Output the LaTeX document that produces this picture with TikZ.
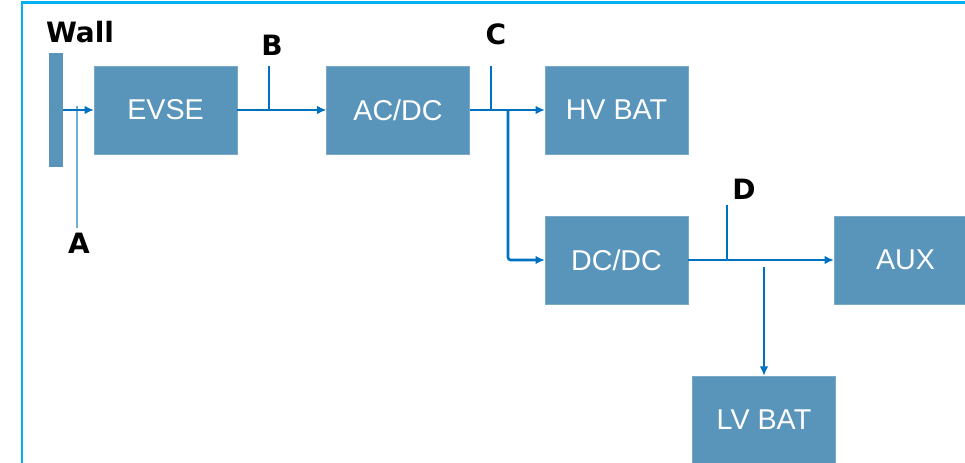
\documentclass[tikz,border=0pt]{standalone}
\usepackage{fontspec}
\setmainfont{Liberation Sans}
\newfontfamily\lblfont{DejaVu Sans}
\usetikzlibrary{arrows.meta}
\definecolor{boxblue}{RGB}{89,149,187}
\definecolor{wireblue}{RGB}{0,112,192}
\definecolor{tapblue}{RGB}{112,174,220}
\definecolor{framecyan}{RGB}{0,176,240}

\begin{document}
\begin{tikzpicture}[x=0.75pt,y=0.75pt,yscale=-1,xscale=1,
	blk/.style={fill=boxblue, draw=boxblue!80!white, text=white, minimum width=107pt, minimum height=66pt, inner sep=0pt, font=\fontsize{21.5}{25}\selectfont},
	lbl/.style={inner sep=0pt, font=\lblfont\bfseries\fontsize{21}{25}\selectfont},
	wire/.style={draw=wireblue, line width=2pt, -{Latex[length=7pt,width=6.5pt]}},
	tap/.style={draw=wireblue, line width=1.1pt}]
	\clip (0,0) rectangle (965,463);
	
	%Shape: Frame
	\draw [framecyan, line width=2pt] (22,480) -- (22,2.5) -- (990,2.5) ;
	
	%Shape: Rectangle [wall]
	\node (wall) at (56,110) [fill=boxblue, minimum width=10.5pt, minimum height=85.5pt, inner sep=0pt] {};
	%Shape: Rectangle [blocks]
	\node (evse) at (165.5,110) [blk] {EVSE};
	\node (acdc) at (398,110) [blk] {AC/DC};
	\node (hvbat) at (616.5,110) [blk] {HV BAT};
	\node (dcdc) at (616.5,260) [blk] {DC/DC};
	\node (aux) at (905.5,260) [blk] {AUX};
	\node (lvbat) at (764,420) [blk] {LV BAT};
	
	%Straight Lines [measuring points]
	\coordinate (atop) at (77,106) ;
	\coordinate (abot) at (77,228) ;
	\coordinate (btop) at (269,66) ;
	\coordinate (ctop) at (491,66) ;
	\coordinate (dtop) at (727,205) ;
	\draw [draw=tapblue, line width=2pt] (atop) -- (abot) ;
	\draw [tap] (btop) -- (btop |- evse.east) ;
	\draw [tap] (ctop) -- (ctop |- acdc.east) ;
	\draw [tap] (dtop) -- (dtop |- dcdc.east) ;
	
	%Straight Lines [power flow]
	\draw [wire] (wall.east) -- (evse.west) ;
	\draw [wire] (evse.east) -- (acdc.west) ;
	\draw [wire] (acdc.east) -- (hvbat.west) ;
	\coordinate (csplit) at (508,110) ;
	\draw [wire, rounded corners=2pt] (csplit) |- (dcdc.west) ;
	\draw [wire] (dcdc.east) -- (aux.west) ;
	\coordinate (dsplit) at (764,267) ;
	\draw [wire] (dsplit) -- (lvbat.north) ;
	
	% Text Node
	\node (walllbl) at (80,32) [lbl] {Wall};
	% Text Node
	\node (albl) at (79,243) [lbl] {A};
	% Text Node
	\node (blbl) at (272,45) [lbl] {B};
	% Text Node
	\node (clbl) at (496,34) [lbl] {C};
	% Text Node
	\node (dlbl) at (744,189) [lbl] {D};
\end{tikzpicture}
\end{document}
